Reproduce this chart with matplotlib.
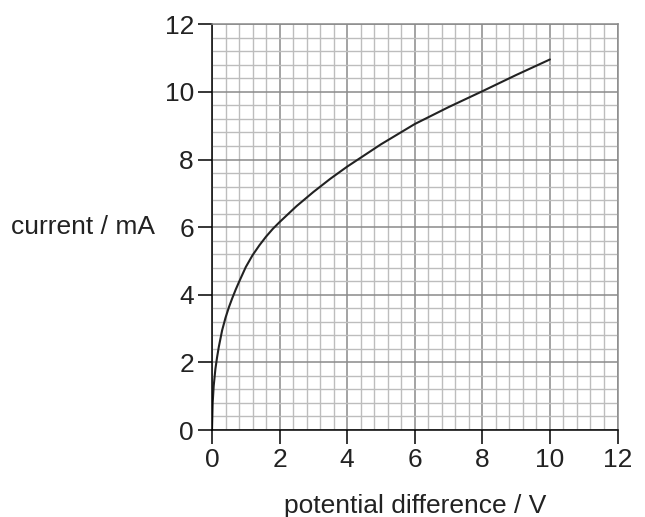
import numpy as np
import matplotlib.pyplot as plt
from matplotlib.ticker import MultipleLocator

# readings
pd_volts = [0, 0.02, 0.05, 0.1, 0.15, 0.2, 0.3, 0.4, 0.5, 0.6, 0.7, 0.8, 1.0, 1.2,
            1.4, 1.6, 1.8, 2.0, 2.5, 3.0, 3.5, 4.0, 5.0, 6.0, 7.0, 8.0, 9.0, 10.0]
current_ma = [0, 0.8, 1.3, 1.8, 2.15, 2.45, 2.95, 3.32, 3.63, 3.9, 4.15, 4.38, 4.82, 5.17,
              5.46, 5.72, 5.95, 6.15, 6.62, 7.04, 7.43, 7.79, 8.45, 9.05, 9.55, 10.02, 10.5, 10.96]

plt.rcParams['font.family'] = ['Liberation Sans', 'DejaVu Sans']

fig = plt.figure(figsize=(6.45, 5.17), dpi=100)
ax = fig.add_axes([212/645, 1 - 430/517, 405.5/645, 405.7/517])

ax.set_xlim(0, 12)
ax.set_ylim(0, 12)
ax.xaxis.set_major_locator(MultipleLocator(2))
ax.yaxis.set_major_locator(MultipleLocator(2))
ax.xaxis.set_minor_locator(MultipleLocator(0.4))
ax.yaxis.set_minor_locator(MultipleLocator(0.4))

ax.grid(which='minor', color='#bdbdbd', linewidth=1.0)
ax.grid(which='major', color='#8a8a8a', linewidth=1.1)
ax.set_axisbelow(True)

ax.plot(pd_volts, current_ma, color='#222222', linewidth=1.5,
        solid_capstyle='round', solid_joinstyle='round')

for s in ['top', 'right']:
    ax.spines[s].set_color('#8a8a8a')
    ax.spines[s].set_linewidth(1.1)
for s in ['left', 'bottom']:
    ax.spines[s].set_color('black')
    ax.spines[s].set_linewidth(1.1)

ax.tick_params(which='major', direction='out', length=10, width=1.1, pad=3,
               labelsize=19, colors='black', labelcolor='#222222')
ax.tick_params(which='minor', length=0)

ax.set_xlabel('potential difference / V', fontsize=19, color='#222222', labelpad=16)
ax.set_ylabel('current / mA', fontsize=19, color='#222222', rotation=0, ha='right', va='center')
ax.yaxis.set_label_coords(-0.14, 0.5)

fig.savefig('out.png', dpi=100)
